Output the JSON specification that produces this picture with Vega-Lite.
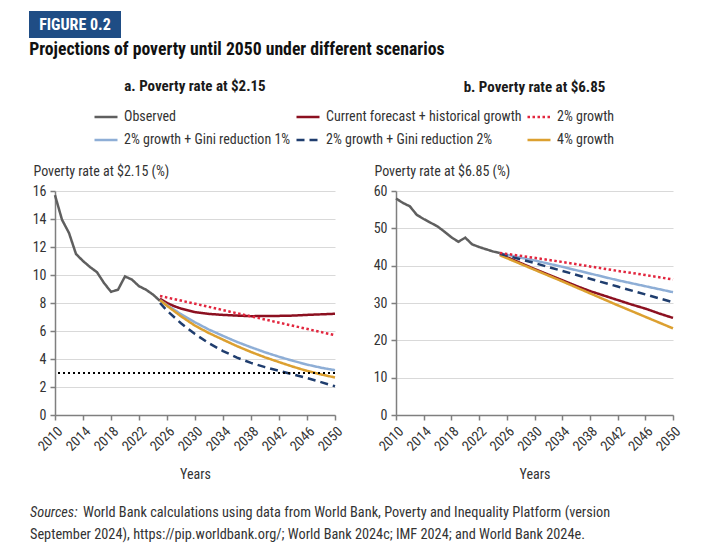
{
  "$schema": "https://vega.github.io/schema/vega-lite/v6.json",
  "padding": {"left": 29, "top": 11, "right": 5, "bottom": 5},
  "background": "white",
  "config": {
    "font": "Roboto Condensed, Liberation Sans Narrow, DejaVu Sans Condensed, sans-serif",
    "view": {"stroke": null},
    "axis": {
      "labelFont": "Roboto Condensed, Liberation Sans Narrow, DejaVu Sans Condensed, sans-serif", "labelFontSize": 14, "labelColor": "#333333",
      "titleFont": "Roboto Condensed, Liberation Sans Narrow, DejaVu Sans Condensed, sans-serif", "titleFontSize": 14, "titleFontWeight": "normal", "titleColor": "#333333",
      "domainColor": "#7f7f7f", "domainWidth": 1.5, "tickColor": "#7f7f7f", "tickWidth": 1.5, "tickSize": 5,
      "gridColor": "#d9d9d9", "gridWidth": 1, "labelPadding": 4, "labelOverlap": false
    },
    "title": {"font": "Roboto Condensed, Liberation Sans Narrow, DejaVu Sans Condensed, sans-serif", "color": "#1a1a1a"},
    "text": {"font": "Roboto Condensed, Liberation Sans Narrow, DejaVu Sans Condensed, sans-serif"},
    "legend": {
      "labelFont": "Roboto Condensed, Liberation Sans Narrow, DejaVu Sans Condensed, sans-serif", "labelFontSize": 14, "labelColor": "#333333", "labelLimit": 400,
      "symbolType": "stroke", "symbolSize": 529, "symbolStrokeWidth": 2.5, "labelOffset": 5,
      "columnPadding": 0, "rowPadding": 3, "padding": 0, "gridAlign": "each"
    }
  },
  "datasets": {
    "p215": [
      {"s": "Observed", "year": 2010, "v": 15.7}, {"s": "Observed", "year": 2011, "v": 13.95}, {"s": "Observed", "year": 2012, "v": 13.0},
      {"s": "Observed", "year": 2013, "v": 11.5}, {"s": "Observed", "year": 2014, "v": 11.0}, {"s": "Observed", "year": 2015, "v": 10.57},
      {"s": "Observed", "year": 2016, "v": 10.2}, {"s": "Observed", "year": 2017, "v": 9.43}, {"s": "Observed", "year": 2018, "v": 8.8},
      {"s": "Observed", "year": 2019, "v": 8.95}, {"s": "Observed", "year": 2020, "v": 9.9}, {"s": "Observed", "year": 2021, "v": 9.67},
      {"s": "Observed", "year": 2022, "v": 9.2}, {"s": "Observed", "year": 2023, "v": 8.95}, {"s": "Observed", "year": 2024, "v": 8.6},
      {"s": "Observed", "year": 2025, "v": 8.15},
      {"s": "Current forecast + historical growth", "year": 2025, "v": 8.3}, {"s": "Current forecast + historical growth", "year": 2026, "v": 8.0},
      {"s": "Current forecast + historical growth", "year": 2027, "v": 7.78}, {"s": "Current forecast + historical growth", "year": 2028, "v": 7.6},
      {"s": "Current forecast + historical growth", "year": 2030, "v": 7.35}, {"s": "Current forecast + historical growth", "year": 2032, "v": 7.22},
      {"s": "Current forecast + historical growth", "year": 2034, "v": 7.15}, {"s": "Current forecast + historical growth", "year": 2036, "v": 7.1},
      {"s": "Current forecast + historical growth", "year": 2038, "v": 7.06}, {"s": "Current forecast + historical growth", "year": 2040, "v": 7.07},
      {"s": "Current forecast + historical growth", "year": 2042, "v": 7.08}, {"s": "Current forecast + historical growth", "year": 2044, "v": 7.1},
      {"s": "Current forecast + historical growth", "year": 2046, "v": 7.15}, {"s": "Current forecast + historical growth", "year": 2048, "v": 7.19},
      {"s": "Current forecast + historical growth", "year": 2050, "v": 7.23},
      {"s": "2% growth + Gini reduction 1%", "year": 2025, "v": 8.2}, {"s": "2% growth + Gini reduction 1%", "year": 2026, "v": 7.85},
      {"s": "2% growth + Gini reduction 1%", "year": 2028, "v": 7.2}, {"s": "2% growth + Gini reduction 1%", "year": 2030, "v": 6.62},
      {"s": "2% growth + Gini reduction 1%", "year": 2032, "v": 6.1}, {"s": "2% growth + Gini reduction 1%", "year": 2034, "v": 5.65},
      {"s": "2% growth + Gini reduction 1%", "year": 2036, "v": 5.22}, {"s": "2% growth + Gini reduction 1%", "year": 2038, "v": 4.84},
      {"s": "2% growth + Gini reduction 1%", "year": 2040, "v": 4.48}, {"s": "2% growth + Gini reduction 1%", "year": 2042, "v": 4.16},
      {"s": "2% growth + Gini reduction 1%", "year": 2044, "v": 3.87}, {"s": "2% growth + Gini reduction 1%", "year": 2046, "v": 3.6},
      {"s": "2% growth + Gini reduction 1%", "year": 2048, "v": 3.38}, {"s": "2% growth + Gini reduction 1%", "year": 2050, "v": 3.2},
      {"s": "4% growth", "year": 2025, "v": 8.2}, {"s": "4% growth", "year": 2026, "v": 7.8}, {"s": "4% growth", "year": 2028, "v": 7.05},
      {"s": "4% growth", "year": 2030, "v": 6.38}, {"s": "4% growth", "year": 2032, "v": 5.85}, {"s": "4% growth", "year": 2034, "v": 5.38},
      {"s": "4% growth", "year": 2036, "v": 4.92}, {"s": "4% growth", "year": 2038, "v": 4.5}, {"s": "4% growth", "year": 2040, "v": 4.12},
      {"s": "4% growth", "year": 2042, "v": 3.78}, {"s": "4% growth", "year": 2044, "v": 3.45}, {"s": "4% growth", "year": 2046, "v": 3.15},
      {"s": "4% growth", "year": 2048, "v": 2.9}, {"s": "4% growth", "year": 2050, "v": 2.68},
      {"s": "2% growth + Gini reduction 2%", "year": 2025, "v": 8.0}, {"s": "2% growth + Gini reduction 2%", "year": 2026, "v": 7.45},
      {"s": "2% growth + Gini reduction 2%", "year": 2028, "v": 6.55}, {"s": "2% growth + Gini reduction 2%", "year": 2030, "v": 5.78},
      {"s": "2% growth + Gini reduction 2%", "year": 2032, "v": 5.12}, {"s": "2% growth + Gini reduction 2%", "year": 2034, "v": 4.57},
      {"s": "2% growth + Gini reduction 2%", "year": 2036, "v": 4.1}, {"s": "2% growth + Gini reduction 2%", "year": 2038, "v": 3.72},
      {"s": "2% growth + Gini reduction 2%", "year": 2040, "v": 3.42}, {"s": "2% growth + Gini reduction 2%", "year": 2042, "v": 3.16},
      {"s": "2% growth + Gini reduction 2%", "year": 2044, "v": 2.9}, {"s": "2% growth + Gini reduction 2%", "year": 2046, "v": 2.64},
      {"s": "2% growth + Gini reduction 2%", "year": 2048, "v": 2.35}, {"s": "2% growth + Gini reduction 2%", "year": 2050, "v": 2.05},
      {"s": "2% growth", "year": 2025, "v": 8.5}, {"s": "2% growth", "year": 2030, "v": 7.95}, {"s": "2% growth", "year": 2035, "v": 7.38},
      {"s": "2% growth", "year": 2040, "v": 6.82}, {"s": "2% growth", "year": 2045, "v": 6.26}, {"s": "2% growth", "year": 2050, "v": 5.7}
    ],
    "p685": [
      {"s": "Observed", "year": 2010, "v": 58.0}, {"s": "Observed", "year": 2011, "v": 56.8}, {"s": "Observed", "year": 2012, "v": 55.9},
      {"s": "Observed", "year": 2013, "v": 53.6}, {"s": "Observed", "year": 2014, "v": 52.5}, {"s": "Observed", "year": 2015, "v": 51.5},
      {"s": "Observed", "year": 2016, "v": 50.5}, {"s": "Observed", "year": 2017, "v": 49.1}, {"s": "Observed", "year": 2018, "v": 47.6},
      {"s": "Observed", "year": 2019, "v": 46.4}, {"s": "Observed", "year": 2020, "v": 47.5}, {"s": "Observed", "year": 2021, "v": 45.7},
      {"s": "Observed", "year": 2022, "v": 45.0}, {"s": "Observed", "year": 2023, "v": 44.4}, {"s": "Observed", "year": 2024, "v": 43.8},
      {"s": "Observed", "year": 2025, "v": 43.4},
      {"s": "Current forecast + historical growth", "year": 2025, "v": 43.1}, {"s": "Current forecast + historical growth", "year": 2028, "v": 40.7},
      {"s": "Current forecast + historical growth", "year": 2030, "v": 39.1}, {"s": "Current forecast + historical growth", "year": 2032, "v": 37.6},
      {"s": "Current forecast + historical growth", "year": 2034, "v": 36.1}, {"s": "Current forecast + historical growth", "year": 2036, "v": 34.6},
      {"s": "Current forecast + historical growth", "year": 2038, "v": 33.2}, {"s": "Current forecast + historical growth", "year": 2040, "v": 32.0},
      {"s": "Current forecast + historical growth", "year": 2042, "v": 30.8}, {"s": "Current forecast + historical growth", "year": 2044, "v": 29.6},
      {"s": "Current forecast + historical growth", "year": 2046, "v": 28.5}, {"s": "Current forecast + historical growth", "year": 2048, "v": 27.2},
      {"s": "Current forecast + historical growth", "year": 2050, "v": 26.0},
      {"s": "4% growth", "year": 2025, "v": 42.8}, {"s": "4% growth", "year": 2030, "v": 38.9}, {"s": "4% growth", "year": 2034, "v": 35.8},
      {"s": "4% growth", "year": 2038, "v": 32.6}, {"s": "4% growth", "year": 2042, "v": 29.4}, {"s": "4% growth", "year": 2046, "v": 26.3},
      {"s": "4% growth", "year": 2050, "v": 23.2},
      {"s": "2% growth + Gini reduction 1%", "year": 2025, "v": 43.3}, {"s": "2% growth + Gini reduction 1%", "year": 2030, "v": 41.4},
      {"s": "2% growth + Gini reduction 1%", "year": 2034, "v": 39.7}, {"s": "2% growth + Gini reduction 1%", "year": 2038, "v": 37.9},
      {"s": "2% growth + Gini reduction 1%", "year": 2042, "v": 36.1}, {"s": "2% growth + Gini reduction 1%", "year": 2046, "v": 34.5},
      {"s": "2% growth + Gini reduction 1%", "year": 2050, "v": 32.9},
      {"s": "2% growth + Gini reduction 2%", "year": 2025, "v": 43.2}, {"s": "2% growth + Gini reduction 2%", "year": 2030, "v": 40.7},
      {"s": "2% growth + Gini reduction 2%", "year": 2034, "v": 38.6}, {"s": "2% growth + Gini reduction 2%", "year": 2038, "v": 36.5},
      {"s": "2% growth + Gini reduction 2%", "year": 2042, "v": 34.4}, {"s": "2% growth + Gini reduction 2%", "year": 2046, "v": 32.3},
      {"s": "2% growth + Gini reduction 2%", "year": 2050, "v": 30.2},
      {"s": "2% growth", "year": 2025, "v": 43.4}, {"s": "2% growth", "year": 2030, "v": 42.1}, {"s": "2% growth", "year": 2034, "v": 41.0},
      {"s": "2% growth", "year": 2038, "v": 39.8}, {"s": "2% growth", "year": 2042, "v": 38.6}, {"s": "2% growth", "year": 2046, "v": 37.5},
      {"s": "2% growth", "year": 2050, "v": 36.3}
    ]
  },
  "spacing": 20,
  "vconcat": [
    {
      "spacing": 3,
      "vconcat": [
        {
          "width": 92, "height": 27,
          "data": {"values": [{"label": "FIGURE 0.2"}]},
          "layer": [
            {
              "mark": {"type": "rect", "color": "#1f4d85"},
              "encoding": {
                "x": {"datum": -26, "type": "quantitative", "scale": {"domain": [0, 92], "nice": false, "zero": false}, "axis": null},
                "x2": {"datum": 66},
                "y": {"datum": 0, "type": "quantitative", "scale": {"domain": [0, 1], "nice": false}, "axis": null},
                "y2": {"datum": 1}
              }
            },
            {
              "mark": {"type": "text", "color": "white", "fontWeight": "bold", "fontSize": 16, "baseline": "middle", "align": "center"},
              "encoding": {
                "x": {"datum": 20, "type": "quantitative"},
                "y": {"datum": 0.5, "type": "quantitative"},
                "text": {"field": "label"}
              }
            }
          ]
        },
        {
          "title": {"text": "Projections of poverty until 2050 under different scenarios", "anchor": "start", "fontSize": 17.7, "fontWeight": "bold", "offset": 20, "dx": -3, "color": "#111111"},
          "bounds": "flush",
          "spacing": 61,
          "resolve": {"scale": {"y": "independent"}, "legend": {"color": "independent", "strokeDash": "independent"}},
          "hconcat": [
            {
              "width": 280, "height": 224,
              "title": {"text": "a. Poverty rate at $2.15", "fontSize": 15, "fontWeight": "bold", "anchor": "middle", "frame": "group", "offset": 10},
              "layer": [
                {
                  "data": {"name": "p215"},
                  "mark": {"type": "line", "strokeWidth": 2.5},
                  "encoding": {
                    "x": {"field": "year", "type": "quantitative", "scale": {"domain": [2010, 2050], "nice": false, "zero": false},
                          "axis": {"values": [2010, 2014, 2018, 2022, 2026, 2030, 2034, 2038, 2042, 2046, 2050], "format": "d", "labelAngle": -45, "grid": false, "title": "Years", "titlePadding": 14}},
                    "y": {"field": "v", "type": "quantitative", "scale": {"domain": [0, 16], "nice": false},
                          "axis": {"values": [0, 2, 4, 6, 8, 10, 12, 14, 16], "title": "Poverty rate at $2.15 (%)", "titleAngle": 0, "titleAlign": "left", "titleBaseline": "alphabetic", "titleX": -22, "titleY": -16}},
                    "color": {"field": "s", "type": "nominal",
                              "scale": {"domain": ["Observed", "Current forecast + historical growth", "2% growth", "2% growth + Gini reduction 1%", "2% growth + Gini reduction 2%", "4% growth"],
                                        "range": ["#5f5f5f", "#8c1020", "#e2263e", "#8eaed6", "#1f3d6e", "#dca030"]},
                              "legend": {"title": null, "orient": "none", "direction": "horizontal", "legendX": 38, "legendY": -87, "columns": 3}},
                    "strokeDash": {"field": "s", "type": "nominal",
                                   "scale": {"domain": ["Observed", "Current forecast + historical growth", "2% growth", "2% growth + Gini reduction 1%", "2% growth + Gini reduction 2%", "4% growth"],
                                             "range": [[1, 0], [1, 0], [2.5, 2.5], [1, 0], [8, 5], [1, 0]]},
                                   "legend": {"title": null, "orient": "none", "direction": "horizontal", "legendX": 38, "legendY": -87, "columns": 3}}
                  }
                },
                {
                  "data": {"values": [{"v": 3}]},
                  "mark": {"type": "rule", "color": "#000000", "strokeWidth": 2.2, "strokeDash": [2, 3]},
                  "encoding": {"y": {"field": "v", "type": "quantitative",
                                     "axis": {"values": [0, 2, 4, 6, 8, 10, 12, 14, 16], "title": "Poverty rate at $2.15 (%)", "titleAngle": 0, "titleAlign": "left", "titleBaseline": "alphabetic", "titleX": -22, "titleY": -16}}}
                }
              ]
            },
            {
              "width": 277, "height": 224,
              "title": {"text": "b. Poverty rate at $6.85", "fontSize": 15, "fontWeight": "bold", "anchor": "middle", "frame": "group", "offset": 69},
              "data": {"name": "p685"},
              "mark": {"type": "line", "strokeWidth": 2.5},
              "encoding": {
                "x": {"field": "year", "type": "quantitative", "scale": {"domain": [2010, 2050], "nice": false, "zero": false},
                      "axis": {"values": [2010, 2014, 2018, 2022, 2026, 2030, 2034, 2038, 2042, 2046, 2050], "format": "d", "labelAngle": -45, "grid": false, "title": "Years", "titlePadding": 14}},
                "y": {"field": "v", "type": "quantitative", "scale": {"domain": [0, 60], "nice": false},
                      "axis": {"values": [0, 10, 20, 30, 40, 50, 60], "title": "Poverty rate at $6.85 (%)", "titleAngle": 0, "titleAlign": "left", "titleBaseline": "alphabetic", "titleX": -22, "titleY": -16}},
                "color": {"field": "s", "type": "nominal",
                          "scale": {"domain": ["Observed", "Current forecast + historical growth", "2% growth", "2% growth + Gini reduction 1%", "2% growth + Gini reduction 2%", "4% growth"],
                                    "range": ["#5f5f5f", "#8c1020", "#e2263e", "#8eaed6", "#1f3d6e", "#dca030"]},
                          "legend": null},
                "strokeDash": {"field": "s", "type": "nominal",
                               "scale": {"domain": ["Observed", "Current forecast + historical growth", "2% growth", "2% growth + Gini reduction 1%", "2% growth + Gini reduction 2%", "4% growth"],
                                         "range": [[1, 0], [1, 0], [2.5, 2.5], [1, 0], [8, 5], [1, 0]]},
                               "legend": null}
              }
            }
          ]
        }
      ]
    },
    {
      "width": 600, "height": 44,
      "data": {"values": [
        {"line": 1, "lead": "Sources:", "txt": "World Bank calculations using data from World Bank, Poverty and Inequality Platform (version"},
        {"line": 2, "lead": "", "txt": "September 2024), https://pip.worldbank.org/; World Bank 2024c; IMF 2024; and World Bank 2024e."}
      ]},
      "encoding": {
        "y": {"field": "line", "type": "ordinal", "axis": null},
        "x": {"datum": 0, "type": "quantitative", "scale": {"domain": [0, 1]}, "axis": null}
      },
      "layer": [
        {"mark": {"type": "text", "align": "left", "baseline": "middle", "fontSize": 14.3, "fontStyle": "italic", "color": "#333333", "dx": -25},
         "encoding": {"text": {"field": "lead"}}},
        {"transform": [{"filter": "datum.line == 1"}],
         "mark": {"type": "text", "align": "left", "baseline": "middle", "fontSize": 14.3, "color": "#333333", "dx": 28},
         "encoding": {"text": {"field": "txt"}}},
        {"transform": [{"filter": "datum.line == 2"}],
         "mark": {"type": "text", "align": "left", "baseline": "middle", "fontSize": 14.3, "color": "#333333", "dx": -25},
         "encoding": {"text": {"field": "txt"}}}
      ]
    }
  ]
}
